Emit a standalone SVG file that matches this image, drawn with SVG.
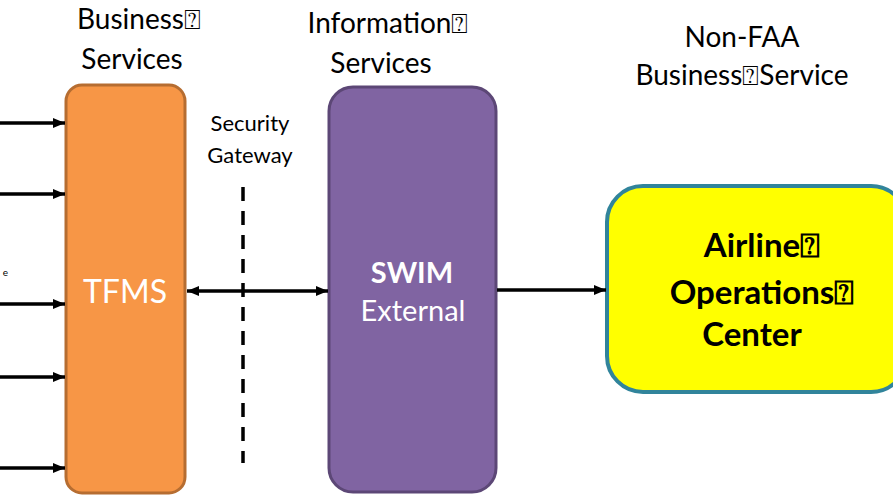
<svg xmlns="http://www.w3.org/2000/svg" width="893" height="496" viewBox="0 0 893 496">
<style>
.lbl{font-family:Lato,"Open Sans","DejaVu Sans",sans-serif;fill:#000}
.head{font-size:28px;text-anchor:middle}
.conn{stroke:#000;stroke-width:3.5;fill:none}
</style>
<defs>
<marker id="ah" markerWidth="12" markerHeight="10" refX="12" refY="5" orient="auto" markerUnits="userSpaceOnUse">
<path d="M0,0 L12,5 L0,10 Z" fill="#000"/>
</marker>
<marker id="ahs" markerWidth="12" markerHeight="10" refX="0" refY="5" orient="auto" markerUnits="userSpaceOnUse">
<path d="M12,0 L0,5 L12,10 Z" fill="#000"/>
</marker>
</defs>
<rect width="893" height="496" fill="#fff"/>
<g id="headings">
<text class="lbl head" x="139" y="29">Business⍰</text>
<text class="lbl head" x="132" y="69">Services</text>
<text class="lbl head" x="388" y="33">Information⍰</text>
<text class="lbl head" x="381" y="73">Services</text>
<text class="lbl head" x="742" y="47">Non-FAA</text>
<text class="lbl head" x="742" y="85">Business⍰Service</text>
<text class="lbl" x="250" y="131" font-size="22" text-anchor="middle">Security</text>
<text class="lbl" x="250" y="163" font-size="22" text-anchor="middle">Gateway</text>
<text class="lbl" x="8" y="276" font-size="10" text-anchor="end">e</text>
</g>
<g id="tfms">
<rect x="66" y="85" width="119" height="408" rx="16" fill="#F79646" stroke="#B66D31" stroke-width="3"/>
<text class="lbl" x="125" y="303" font-size="32" style="fill:#fff" text-anchor="middle">TFMS</text>
</g>
<g id="swim">
<rect x="329" y="87" width="167" height="405" rx="24" fill="#8064A2" stroke="#5C4776" stroke-width="3"/>
<text class="lbl" x="412" y="283" font-size="29" font-weight="bold" style="fill:#fff" text-anchor="middle">SWIM</text>
<text class="lbl" x="413" y="321" font-size="29" style="fill:#fff" text-anchor="middle">External</text>
</g>
<g id="aoc">
<rect x="607" y="186" width="300" height="206" rx="36" fill="#FFFF00" stroke="#31849B" stroke-width="4"/>
<text class="lbl" x="762" y="257" font-size="33" font-weight="bold" text-anchor="middle">Airline⍰</text>
<text class="lbl" x="762" y="304" font-size="33" font-weight="bold" text-anchor="middle">Operations⍰</text>
<text class="lbl" x="752" y="346" font-size="33" font-weight="bold" text-anchor="middle">Center</text>
</g>
<g id="connectors">
<line class="conn" x1="0" y1="123" x2="65" y2="123" marker-end="url(#ah)"/>
<line class="conn" x1="0" y1="194" x2="65" y2="194" marker-end="url(#ah)"/>
<line class="conn" x1="0" y1="304" x2="65" y2="304" marker-end="url(#ah)"/>
<line class="conn" x1="0" y1="377" x2="65" y2="377" marker-end="url(#ah)"/>
<line class="conn" x1="0" y1="468" x2="65" y2="468" marker-end="url(#ah)"/>
<line class="conn" x1="187" y1="291" x2="328" y2="291" stroke-width="2.5" marker-start="url(#ahs)" marker-end="url(#ah)"/>
<line class="conn" x1="243" y1="187" x2="243" y2="463" stroke-width="4" stroke-dasharray="14,10"/>
<line class="conn" x1="497" y1="290" x2="606" y2="290" stroke-width="3" marker-end="url(#ah)"/>
</g>
</svg>
